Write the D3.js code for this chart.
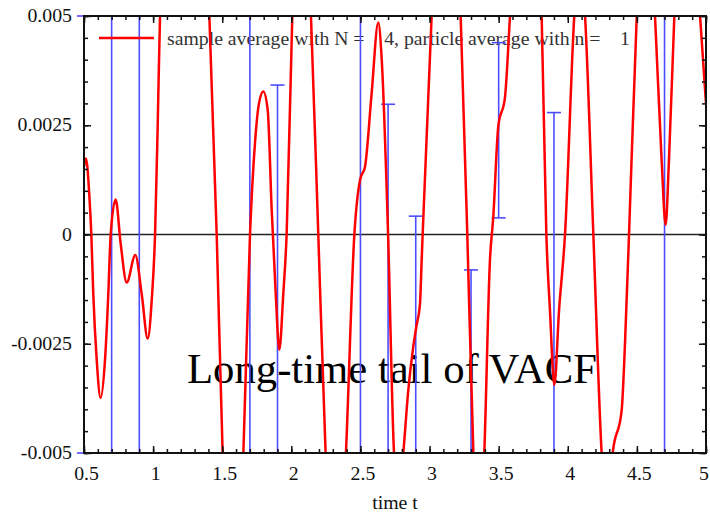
<!DOCTYPE html>
<html><head><meta charset="utf-8">
<script src="https://cdn.jsdelivr.net/npm/d3@7"></script>
<style>body{margin:0;background:#fff} svg{display:block}</style>
</head><body>
<svg id="chart" width="710" height="512"></svg>
<script>
// ---- data ----
const curveT = [0.50,0.5145,0.539,0.553,0.567,0.592,0.620,0.652,0.676,0.693,0.729,0.765,0.809,0.871,0.917,0.961,0.990,1.014,1.033,1.050,1.23,1.407,1.460,1.503,1.578,1.653,1.701,1.737,1.766,1.797,1.829,1.858,1.887,1.913,1.942,1.966,2.007,2.075,2.142,2.195,2.248,2.32,2.395,2.456,2.497,2.533,2.581,2.629,2.654,2.700,2.743,2.777,2.810,2.845,2.882,2.905,2.931,2.943,2.950,3.015,3.12,3.225,3.273,3.317,3.357,3.396,3.437,3.461,3.497,3.546,3.582,3.70,3.811,3.845,3.871,3.903,3.937,3.980,4.047,4.086,4.125,4.185,4.245,4.285,4.325,4.39,4.414,4.443,4.499,4.565,4.631,4.679,4.708,4.732,4.771,4.865,4.957,5.0];
const curveV = [0.00155,0.00174,0.00087,0,-0.00135,-0.00287,-0.00374,-0.00287,-0.00135,0,0.0008,-0.0002,-0.0011,-0.00047,-0.00135,-0.00238,-0.0015,0,0.00247,0.005,0.014,0.005,0,-0.005,-0.009,-0.005,0,0.00209,0.0030,0.00327,0.00285,0.00056,-0.00135,-0.00264,-0.00135,0,0.005,0.009,0.005,0,-0.005,-0.009,-0.005,0,0.00125,0.00155,0.00323,0.00485,0.0040,0,-0.005,-0.006,-0.005,-0.0036,-0.00257,-0.0021,-0.00157,-0.00058,0,0.005,0.012,0.005,0,-0.005,-0.0075,-0.005,-0.00058,0.0004,0.00247,0.00315,0.005,0.011,0.005,0,-0.00173,-0.00344,-0.00173,0,0.005,0.0065,0.005,0,-0.005,-0.0065,-0.005,-0.00402,-0.00249,0,0.005,0.0085,0.005,0.0017,0.00022,0.0017,0.005,0.010,0.005,0.003];

const barT  = [0.5, 0.7, 0.9, 1.7, 1.9, 2.5, 2.7, 2.9, 3.3, 3.5, 3.9, 4.7];
const barLo = [-0.005, -0.0062, -0.0080, -0.0066, -0.0082, -0.0056, -0.0064, -0.0058, -0.0105, 0.00038, -0.0096, -0.0065];
const barHi = [0.005, 0.0068, 0.0058, 0.0066, 0.00342, 0.0082, 0.00298, 0.00042, -0.00081, 0.00439, 0.00279, 0.0069];

const xTicks = [0.5, 1, 1.5, 2, 2.5, 3, 3.5, 4, 4.5, 5];
const xTickLabels = ["0.5","1","1.5","2","2.5","3","3.5","4","4.5","5"];
const yTicks = [-0.005, -0.0025, 0, 0.0025, 0.005];
const yTickLabels = ["-0.005","-0.0025","0","0.0025","0.005"];
const xMinorStep = 0.1, yMinorStep = 0.0005;

const legendLabel = "sample average with N =    4, particle average with n =    1";
const titleText = "Long-time tail of VACF";
const xAxisLabel = "time t";

// ---- layout ----
const L = 84, R = 706, T = 16, B = 453;
const svg = d3.select("#chart");
const x = d3.scaleLinear().domain([0.5, 5]).range([L, R]);
const y = d3.scaleLinear().domain([-0.005, 0.005]).range([B, T]);
const serif = "'Liberation Serif','Times New Roman',serif";

function stretch(sel, f) {
  sel.each(function() {
    const w = this.getComputedTextLength();
    d3.select(this).attr("textLength", w * f).attr("lengthAdjust", "spacingAndGlyphs");
  });
}

const defs = svg.append("defs");
defs.append("clipPath").attr("id", "plotClip").append("rect")
  .attr("x", L).attr("y", T).attr("width", R - L).attr("height", B - T);
defs.append("clipPath").attr("id", "barClip").append("rect")
  .attr("x", 0).attr("y", T - 1).attr("width", 710).attr("height", B - T + 2);

// legend text (under lines)
svg.append("text").attr("x", 167).attr("y", 45)
  .attr("font-family", serif).attr("font-size", 18.5).attr("fill", "#333")
  .style("white-space", "pre").text(legendLabel)
  .attr("textLength", 463).attr("lengthAdjust", "spacingAndGlyphs");

// title (under lines)
svg.append("text").attr("x", 187).attr("y", 382.5)
  .attr("font-family", serif).attr("font-size", 42).attr("fill", "#000")
  .text(titleText).attr("textLength", 410).attr("lengthAdjust", "spacingAndGlyphs");

// zero line
svg.append("line").attr("x1", L).attr("x2", R).attr("y1", y(0)).attr("y2", y(0))
  .attr("stroke", "#222").attr("stroke-width", 1.5);

// error bars
const bars = d3.range(barT.length).map(i => ({t: barT[i], lo: barLo[i], hi: barHi[i]}));
const gb = svg.append("g").attr("clip-path", "url(#barClip)")
  .attr("stroke", "#4d4dff").attr("stroke-width", 1.6);
gb.selectAll("line.v").data(bars).join("line").attr("class", "v")
  .attr("x1", d => x(d.t)).attr("x2", d => x(d.t))
  .attr("y1", d => y(d.lo)).attr("y2", d => y(d.hi));
gb.selectAll("line.hi").data(bars).join("line").attr("class", "hi")
  .attr("x1", d => x(d.t) - 7).attr("x2", d => x(d.t) + 7)
  .attr("y1", d => y(d.hi)).attr("y2", d => y(d.hi));
gb.selectAll("line.lo").data(bars).join("line").attr("class", "lo")
  .attr("x1", d => x(d.t) - 7).attr("x2", d => x(d.t) + 7)
  .attr("y1", d => y(d.lo)).attr("y2", d => y(d.lo));

// curve
const pts = curveT.map((t, i) => [t, curveV[i]]);
svg.append("path").datum(pts).attr("clip-path", "url(#plotClip)")
  .attr("fill", "none").attr("stroke", "#ff0000").attr("stroke-width", 2.5)
  .attr("stroke-linejoin", "round")
  .attr("d", d3.line().x(d => x(d[0])).y(d => y(d[1])).curve(d3.curveMonotoneX));

// legend sample line
svg.append("line").attr("x1", 99).attr("x2", 154).attr("y1", 38).attr("y2", 38)
  .attr("stroke", "#ff0000").attr("stroke-width", 2.5);

// ticks (inward, all four sides)
const xMinor = d3.range(Math.round((5 - 0.5) / xMinorStep) + 1).map(i => 0.5 + i * xMinorStep);
const yMinor = d3.range(Math.round(0.01 / yMinorStep) + 1).map(i => -0.005 + i * yMinorStep);
function tickAxis(axisFn, scale, vals, size, tx, ty) {
  const g = svg.append("g").attr("transform", `translate(${tx},${ty})`)
    .call(axisFn(scale).tickValues(vals).tickSize(-size).tickFormat(""));
  g.select(".domain").remove();
  g.selectAll(".tick line").attr("stroke", "#111").attr("stroke-width", 1.5);
}
tickAxis(d3.axisBottom, x, xMinor, 4, 0, B);
tickAxis(d3.axisBottom, x, xTicks, 7, 0, B);
tickAxis(d3.axisTop, x, xMinor, 4, 0, T);
tickAxis(d3.axisTop, x, xTicks, 7, 0, T);
tickAxis(d3.axisLeft, y, yMinor, 4, L, 0);
tickAxis(d3.axisLeft, y, yTicks, 7, L, 0);
tickAxis(d3.axisRight, y, yMinor, 4, R, 0);
tickAxis(d3.axisRight, y, yTicks, 7, R, 0);

// frame
svg.append("rect").attr("x", L).attr("y", T).attr("width", R - L).attr("height", B - T)
  .attr("fill", "none").attr("stroke", "#111").attr("stroke-width", 2);

// tick labels
const xl = svg.append("g").selectAll("text").data(xTicks).join("text")
  .attr("x", d => Math.min(x(d) + 2.5, 704)).attr("y", 480).attr("text-anchor", "middle")
  .attr("font-family", serif).attr("font-size", 18).attr("fill", "#111")
  .text((d, i) => xTickLabels[i]);
stretch(xl, 1.1);
const yl = svg.append("g").selectAll("text").data(yTicks).join("text")
  .attr("x", 72).attr("y", d => y(d) + 6).attr("text-anchor", "end")
  .attr("font-family", serif).attr("font-size", 18).attr("fill", "#111")
  .text((d, i) => yTickLabels[i]);
stretch(yl, 1.1);

// axis label
const al = svg.append("text").attr("x", 395).attr("y", 509).attr("text-anchor", "middle")
  .attr("font-family", serif).attr("font-size", 18).attr("fill", "#111").text(xAxisLabel);
stretch(al, 1.1);
</script>
</body></html>
